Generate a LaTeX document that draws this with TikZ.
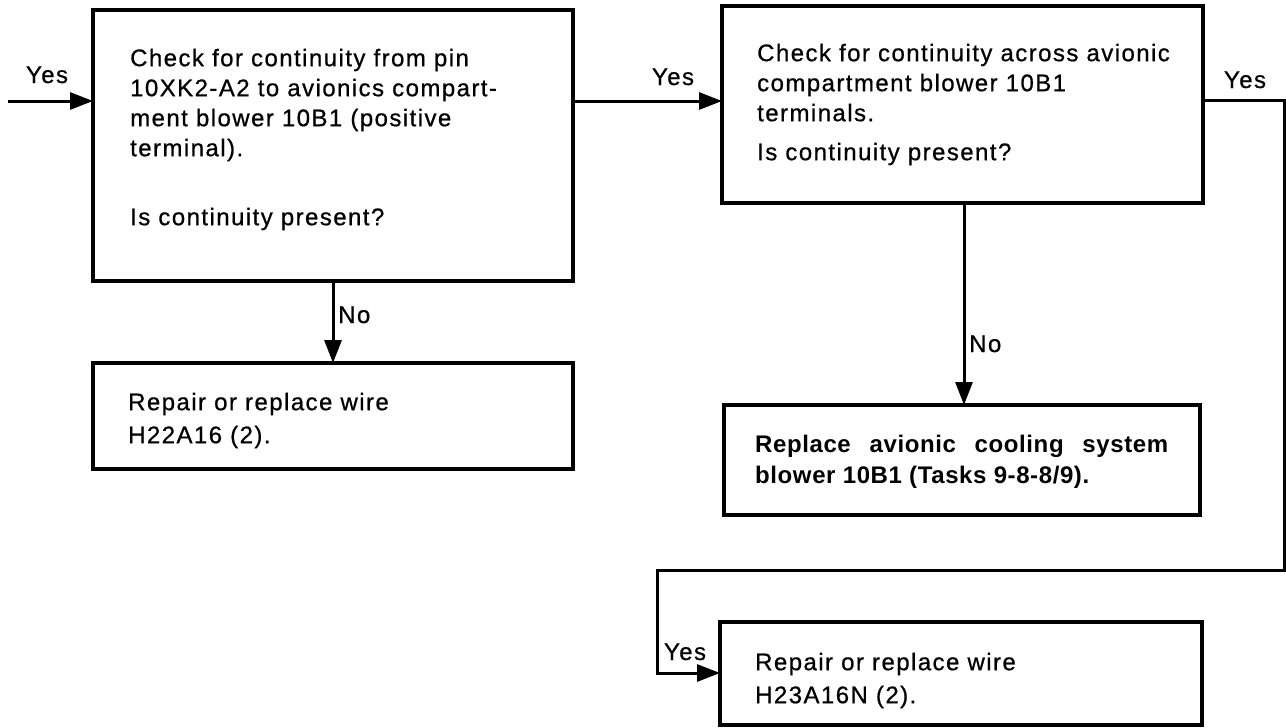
\documentclass[tikz,border=0pt]{standalone}
\usepackage{fontspec}
\setmainfont{Liberation Sans}[LetterSpace=6.0,FakeBold=0.7]
\newfontfamily\boldtxt{Liberation Sans}[LetterSpace=2.5]
\usetikzlibrary{arrows.meta}
\newcommand\firstln{\rule{0pt}{20pt}}
\begin{document}
\begin{tikzpicture}[x=1pt,y=-1pt,
  box/.style={draw, line width=3.2pt, outer sep=0pt, inner sep=0pt, anchor=north west},
  conn/.style={line width=3pt},
  arr/.style={conn, -{Triangle[length=23pt,width=17pt]}},
  txt/.style={anchor=north west, inner sep=0pt, align=left, font=\fontsize{24}{30}\selectfont},
  lbl/.style={anchor=base, inner sep=0pt, font=\fontsize{24}{30}\selectfont}]
\useasboundingbox (0,0) rectangle (1286,728);

% boxes
\node[box, minimum width=480, minimum height=271] (b1) at (93,10) {};
\node[box, minimum width=481, minimum height=197] (b2) at (722,6) {};
\node[box, minimum width=480, minimum height=106] (bA) at (93,363) {};
\node[box, minimum width=476, minimum height=110] (b3) at (724,405) {};
\node[box, minimum width=482, minimum height=103] (b4) at (720,622) {};

% texts
\node[txt] (t1a) at (130,46) {\firstln Check for continuity from pin\\10XK2-A2 to avionics compart-\\ment blower 10B1 (positive\\terminal).};
\node[txt] (t1b) at (130,205) {\firstln Is continuity present?};
\node[txt] (t2a) at (757,41) {\firstln Check for continuity across avionic\\compartment blower 10B1\\terminals.};
\node[txt] (t2b) at (757,140) {\firstln Is continuity present?};
\node[txt, font=\fontsize{24}{33}\selectfont] (tA) at (128,390) {\firstln Repair or replace wire\\H22A16 (2).};
\node[txt, font=\fontsize{24}{31}\selectfont\boldtxt\bfseries] (t3) at (755,432) {\firstln\makebox[413pt][s]{Replace avionic cooling system}\\blower 10B1 (Tasks 9-8-8/9).};
\node[txt, font=\fontsize{24}{33}\selectfont] (t4) at (755,650) {\firstln Repair or replace wire\\H23A16N (2).};

% labels
\node[lbl] (lyin) at (47,83) {Yes};
\node[lbl] (ly12) at (673,85) {Yes};
\node[lbl] (lyex) at (1245,88) {Yes};
\node[lbl, anchor=base west] (ln1) at (338,323) {No};
\node[lbl, anchor=base west] (ln2) at (969,352) {No};
\node[lbl] (ly4) at (685,660) {Yes};

% connectors
\coordinate (inS) at (8,101);
\coordinate (yA) at (0,101);
\coordinate (yB) at (0,100);
\coordinate (loopR) at (1284,570);
\coordinate (loopL) at (657,570);
\coordinate (y4) at (0,673);
\coordinate (x1) at (333,0);
\coordinate (x2) at (964,0);

\draw[arr] (inS) -- (inS -| b1.west);
\draw[arr] (b1.east |- yA) -- (b2.west |- yA);
\draw[arr] (b2.east |- yB) -| (loopR) -- (loopL) |- (b4.west |- y4);
\draw[arr] (b1.south -| x1) -- (bA.north -| x1);
\draw[arr] (b2.south -| x2) -- (b3.north -| x2);
\end{tikzpicture}
\end{document}
